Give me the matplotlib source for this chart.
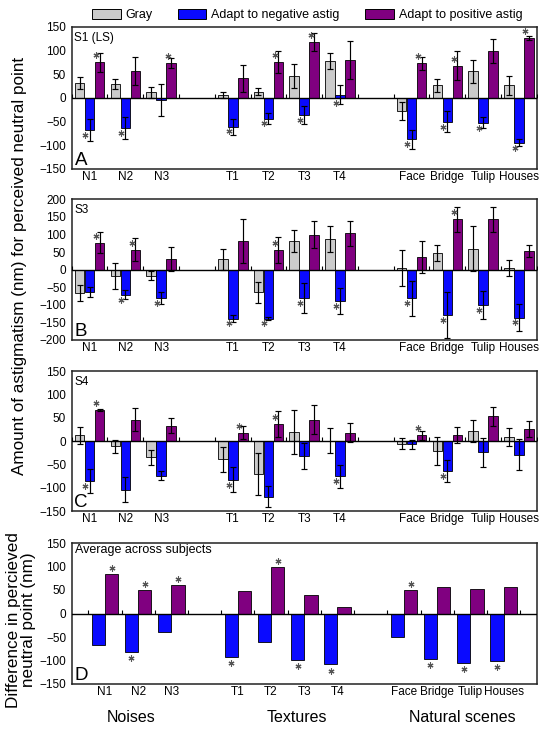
import matplotlib
matplotlib.use('Agg')
import matplotlib.pyplot as plt
import numpy as np
from matplotlib.transforms import offset_copy
from matplotlib.patches import Patch

plt.rcParams['font.family'] = ['Liberation Sans', 'DejaVu Sans']

# ---------------- data ----------------
categories = ['N1', 'N2', 'N3', 'T1', 'T2', 'T3', 'T4', 'Face', 'Bridge', 'Tulip', 'Houses']
positions = [0, 1, 2, 4, 5, 6, 7, 9, 10, 11, 12]
group_names = ['Noises', 'Textures', 'Natural scenes']
series_names = ['Gray', 'Adapt to negative astig', 'Adapt to positive astig']

# S1 (LS)
s1_gray = [31, 29, 11, 6, 13, 46, 78, -29, 26, 56, 26]
s1_gray_err = [12, 11, 12, 7, 7, 26, 17, 19, 14, 24, 20]
s1_neg = [-69, -64, -5, -61, -44, -37, 6, -88, -51, -53, -95]
s1_neg_err = [23, 24, 34, 17, 12, 19, 20, 20, 22, 12, 7]
s1_pos = [75, 56, 73, 41, 75, 118, 80, 73, 68, 98, 126]
s1_pos_err = [20, 30, 10, 29, 23, 19, 40, 14, 30, 25, 5]
s1_star_neg = [1, 1, 0, 1, 1, 1, 1, 1, 1, 1, 1]
s1_star_pos = [1, 0, 1, 0, 1, 1, 0, 1, 1, 0, 1]

# S3
s3_gray = [-66, -18, -17, 30, -64, 81, 86, 6, 47, 60, 5]
s3_gray_err = [22, 36, 13, 30, 30, 32, 37, 51, 23, 64, 22]
s3_neg = [-63, -71, -81, -139, -139, -81, -89, -81, -128, -101, -136]
s3_neg_err = [14, 13, 18, 10, 5, 42, 38, 50, 65, 39, 38]
s3_pos = [77, 57, 30, 81, 57, 100, 103, 36, 143, 143, 53]
s3_pos_err = [30, 33, 34, 62, 37, 39, 36, 45, 36, 36, 17]
s3_star_neg = [0, 1, 1, 1, 1, 1, 1, 1, 1, 1, 1]
s3_star_pos = [1, 1, 0, 0, 1, 0, 0, 0, 1, 0, 0]

# S4
s4_gray = [12, -11, -35, -39, -71, 19, 1, -6, -21, 21, 8]
s4_gray_err = [18, 14, 16, 27, 45, 47, 26, 12, 30, 24, 19]
s4_neg = [-86, -104, -74, -83, -119, -32, -76, -7, -64, -24, -29]
s4_neg_err = [25, 27, 10, 27, 22, 27, 25, 10, 24, 31, 33]
s4_pos = [66, 46, 33, 18, 36, 46, 18, 12, 13, 53, 26]
s4_pos_err = [2, 24, 16, 14, 28, 32, 20, 9, 17, 20, 17]
s4_star_neg = [1, 0, 0, 1, 0, 0, 1, 0, 1, 0, 0]
s4_star_pos = [1, 0, 0, 1, 1, 0, 0, 1, 0, 0, 0]

# Average across subjects
avg_neg = [-66, -81, -40, -92, -60, -98, -108, -50, -97, -105, -100]
avg_pos = [84, 50, 61, 48, 98, 40, 13, 50, 57, 52, 57]
avg_star_neg = [0, 1, 0, 1, 0, 1, 1, 0, 1, 1, 1]
avg_star_pos = [1, 1, 1, 0, 1, 0, 0, 1, 0, 0, 0]

# ---------------- style ----------------
C_GRAY = '#cbcbcb'
C_BLUE = '#0a0aff'
C_PURP = '#800080'
C_STAR = '#555555'
TICK_FS = 8.5

W, H = 549, 730
fig = plt.figure(figsize=(W / 100, H / 100), dpi=100)


def make_axes(l, t, r, b):
    return fig.add_axes([l / W, 1 - b / H, (r - l) / W, (b - t) / H])


x = np.array(positions, dtype=float)
err_kw = dict(ecolor='black', elinewidth=0.85, capsize=2, capthick=0.85)
star_marker = (6, 2, 0)


def style_axes(ax, ylim, xlim):
    ax.set_xlim(*xlim)
    ax.set_ylim(*ylim)
    ax.set_yticks(np.arange(ylim[0], ylim[1] + 1, 50))
    ax.set_xticks(x)
    ax.set_xticklabels(categories)
    ax.tick_params(axis='both', length=0, labelsize=TICK_FS)
    ax.tick_params(axis='x', pad=1.5)
    ax.tick_params(axis='y', pad=4)
    for s in ax.spines.values():
        s.set_linewidth(1.1)
        s.set_color('#222222')
    ax.axhline(0, color='black', lw=1.0, zorder=3)
    stubs = np.unique(np.concatenate([x - 0.5, x + 0.5]))
    ax.plot(stubs, np.zeros_like(stubs), ls='none', marker=2, ms=3,
            mew=0.8, color='black', zorder=3)


def subject_panel(ax, gray, gerr, neg, nerr, pos, perr, sneg, spos, ylim, label, letter):
    w = 0.27
    off = 0.28
    ax.bar(x - off, gray, w, yerr=gerr, color=C_GRAY, edgecolor='black',
           linewidth=0.6, error_kw=err_kw, zorder=2)
    ax.bar(x, neg, w, yerr=nerr, color=C_BLUE, edgecolor='black',
           linewidth=0.6, error_kw=err_kw, zorder=2)
    ax.bar(x + off, pos, w, yerr=perr, color=C_PURP, edgecolor='black',
           linewidth=0.6, error_kw=err_kw, zorder=2)
    style_axes(ax, ylim, (-0.5, 12.5))
    t_dn = offset_copy(ax.transData, fig=fig, x=-3, y=-3.5, units='points')
    t_up = offset_copy(ax.transData, fig=fig, x=-2.5, y=5, units='points')
    for i in range(len(x)):
        if sneg[i]:
            ax.plot(x[i], min(neg[i], 0), marker=star_marker, ms=4.3, mew=0.8,
                    color=C_STAR, transform=t_dn, zorder=4)
        if spos[i]:
            ax.plot(x[i] + off, max(pos[i], 0), marker=star_marker, ms=4.3, mew=0.8,
                    color=C_STAR, transform=t_up, zorder=4)
    ax.text(0.006, 0.965, label, transform=ax.transAxes, ha='left', va='top',
            fontsize=8.5)
    ax.text(0.006, 0.0, letter, transform=ax.transAxes, ha='left', va='bottom',
            fontsize=13.5)


axA = make_axes(71.7, 26.7, 536.8, 168.7)
subject_panel(axA, s1_gray, s1_gray_err, s1_neg, s1_neg_err, s1_pos, s1_pos_err,
              s1_star_neg, s1_star_pos, (-150, 150), 'S1 (LS)', 'A')

axB = make_axes(71.7, 199.4, 536.8, 340.0)
subject_panel(axB, s3_gray, s3_gray_err, s3_neg, s3_neg_err, s3_pos, s3_pos_err,
              s3_star_neg, s3_star_pos, (-200, 200), 'S3', 'B')

axC = make_axes(71.7, 371.0, 536.8, 511.0)
subject_panel(axC, s4_gray, s4_gray_err, s4_neg, s4_neg_err, s4_pos, s4_pos_err,
              s4_star_neg, s4_star_pos, (-150, 150), 'S4', 'C')

# Panel D
axD = make_axes(71.7, 543.0, 536.8, 684.0)
wd = 0.40
axD.bar(x - wd / 2, avg_neg, wd, color=C_BLUE, edgecolor='black', linewidth=0.6, zorder=2)
axD.bar(x + wd / 2, avg_pos, wd, color=C_PURP, edgecolor='black', linewidth=0.6, zorder=2)
style_axes(axD, (-150, 150), (-1.0, 13.0))
tD_dn = offset_copy(axD.transData, fig=fig, x=0, y=-4.5, units='points')
tD_up = offset_copy(axD.transData, fig=fig, x=0, y=4.5, units='points')
for i in range(len(x)):
    if avg_star_neg[i]:
        axD.plot(x[i] - wd / 2, avg_neg[i], marker=star_marker, ms=4.3, mew=0.8,
                 color=C_STAR, transform=tD_dn, zorder=4)
    if avg_star_pos[i]:
        axD.plot(x[i] + wd / 2, avg_pos[i], marker=star_marker, ms=4.3, mew=0.8,
                 color=C_STAR, transform=tD_up, zorder=4)
axD.text(0.008, 0.99, 'Average across subjects', transform=axD.transAxes,
         ha='left', va='top', fontsize=9)
axD.text(0.006, 0.0, 'D', transform=axD.transAxes, ha='left', va='bottom', fontsize=13.5)

# Axis labels
fig.text(20 / W, 1 - 266 / H, 'Amount of astigmatism (nm) for perceived neutral point',
         rotation=90, ha='center', va='center', fontsize=12.3)
fig.text(21 / W, 1 - 620 / H, 'Difference in percieved\nneutral point (nm)',
         rotation=90, ha='center', va='center', fontsize=12.3, linespacing=1.05)

# Group names
for name, px in zip(group_names, [131.5, 297, 462]):
    fig.text(px / W, 1 - 718 / H, name, ha='center', va='center', fontsize=11.5)

# Legend
handles = [Patch(facecolor=c, edgecolor='black', linewidth=0.7)
           for c in (C_GRAY, C_BLUE, C_PURP)]
fig.legend(handles, series_names, loc='upper center',
           bbox_to_anchor=(307 / W, 1 - 0 / H), ncol=3, frameon=False,
           fontsize=9, handlelength=2.3, handleheight=0.9,
           columnspacing=2.0, handletextpad=0.4, borderpad=0.2)

fig.savefig('out.png', dpi=100)
